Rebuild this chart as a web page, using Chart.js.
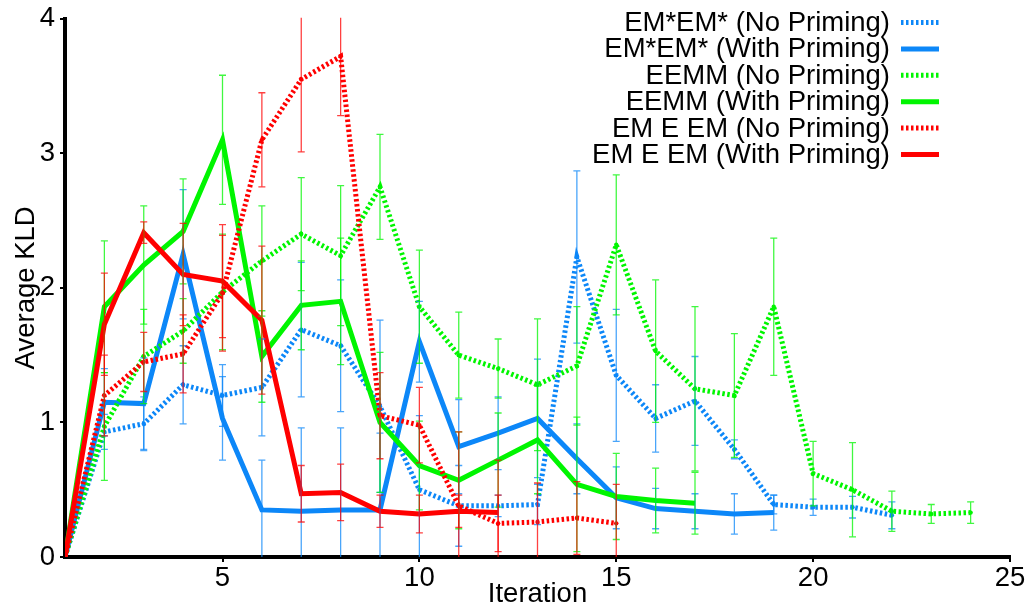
<!DOCTYPE html>
<html>
<head>
<meta charset="utf-8">
<script src="https://cdn.jsdelivr.net/npm/chart.js@4.4.0/dist/chart.umd.min.js"></script>
<style>
  html, body { margin: 0; padding: 0; background: #fff; }
  #wrap { width: 1033px; height: 607px; }
</style>
</head>
<body>
<div id="wrap"><canvas id="kldChart" width="1033" height="607"></canvas></div>
<script>
// iterations (x) and average KLD per series
const iterations = [1, 2, 3, 4, 5, 6, 7, 8, 9, 10, 11, 12, 13, 14, 15, 16, 17, 18, 19, 20, 21, 22, 23, 24];
const xTicks = [5, 10, 15, 20, 25];
const yTicks = [0, 1, 2, 3, 4];

const emNoPrime    = [0, 0.93, 0.99, 1.28, 1.20, 1.26, 1.69, 1.57, 1.12, 0.50, 0.38, 0.38, 0.39, 2.23, 1.35, 1.03, 1.16, 0.80, 0.39, 0.37, 0.37, 0.31];
const emNoPrimeErr = [0, 0.13, 0.20, 0.29, 0.23, 0.36, 0.50, 0.49, 0.64, 0.55, 0.30, 0.08, 0.15, 0.64, 0.49, 0.25, 0.33, 0.07, 0.07, 0.06, 0.08, 0.10];

const emPrime    = [0, 1.15, 1.14, 2.25, 1.03, 0.35, 0.34, 0.35, 0.35, 1.60, 0.82, 0.92, 1.03, 0.73, 0.44, 0.36, 0.34, 0.32, 0.33];
const emPrimeErr = [0, 0.25, 0.34, 0.48, 0.31, 0.37, 0.62, 0.61, 0.57, 0.30, 0.35, 0.27, 0.44, 0.26, 0.23, 0.15, 0.13, 0.15, 0.13];

const eemmNoPrime    = [0, 0.97, 1.49, 1.68, 1.97, 2.20, 2.40, 2.24, 2.75, 1.86, 1.50, 1.40, 1.28, 1.42, 2.32, 1.53, 1.25, 1.20, 1.86, 0.62, 0.50, 0.34, 0.32, 0.33];
const eemmNoPrimeErr = [0, 0.40, 0.35, 0.24, 0.43, 0.41, 0.42, 0.52, 0.39, 0.42, 0.32, 0.22, 0.49, 0.44, 0.52, 0.53, 0.61, 0.46, 0.51, 0.24, 0.35, 0.15, 0.07, 0.08];

const eemmPrime    = [0, 1.86, 2.17, 2.42, 3.10, 1.49, 1.87, 1.90, 1.00, 0.68, 0.57, 0.72, 0.87, 0.54, 0.45, 0.42, 0.40];
const eemmPrimeErr = [0, 0.49, 0.44, 0.39, 0.48, 0.34, 0.33, 0.47, 0.52, 0.33, 0.36, 0.35, 0.40, 0.50, 0.32, 0.24, 0.23];

const emeNoPrime    = [0, 1.20, 1.45, 1.51, 1.96, 3.10, 3.55, 3.72, 1.05, 0.98, 0.38, 0.25, 0.26, 0.29, 0.25];
const emeNoPrimeErr = [0, 0.30, 0.22, 0.29, 0.43, 0.35, 0.54, 0.44, 0.32, 0.28, 0.55, 0.21, 0.29, 0.27, 0.29];

const emePrime    = [0, 1.73, 2.41, 2.10, 2.05, 1.76, 0.47, 0.48, 0.34, 0.32, 0.34, 0.33];
const emePrimeErr = [0, 0.38, 0.08, 0.38, 0.42, 0.55, 0.21, 0.21, 0.12, 0.14, 0.12, 0.39];

const BLUE = 'rgb(12,135,248)';
const GREEN = 'rgb(0,245,0)';
const RED = 'rgb(255,0,0)';
const FONT = '"Liberation Sans", Arial, Helvetica, sans-serif';

const toPoints = vals => vals.map((v, i) => ({ x: iterations[i], y: v }));

function series(label, vals, errs, color, dotted, idx) {
  return {
    label: label,
    data: toPoints(vals),
    errors: errs,
    borderColor: color,
    backgroundColor: color,
    borderWidth: 5,
    borderDash: dotted ? [2.5, 2.5] : [],
    pointRadius: dotted ? 2.2 : 0,
    pointBorderWidth: 0,
    pointBackgroundColor: color,
    tension: 0,
    fill: false,
    order: -idx
  };
}

// vertical error bars with small caps, drawn with the chart's scales
const errorBars = {
  id: 'errorBars',
  afterDatasetsDraw(chart) {
    const { ctx, chartArea, scales } = chart;
    ctx.save();
    ctx.beginPath();
    ctx.rect(chartArea.left, chartArea.top - 1, chartArea.right - chartArea.left, chartArea.bottom - chartArea.top + 1);
    ctx.clip();
    ctx.lineWidth = 1.3;
    ctx.globalAlpha = 0.75;
    chart.data.datasets.forEach(ds => {
      ctx.strokeStyle = ds.borderColor;
      ds.data.forEach((p, j) => {
        const e = ds.errors[j];
        if (!e) return;
        const px = scales.x.getPixelForValue(p.x);
        const hi = p.y + e, lo = p.y - e;
        const yHi = scales.y.getPixelForValue(Math.min(hi, 4.2));
        const yLo = scales.y.getPixelForValue(Math.max(lo, 0));
        ctx.beginPath();
        ctx.moveTo(px, yHi); ctx.lineTo(px, yLo);
        if (hi <= 4) { ctx.moveTo(px - 3.5, yHi); ctx.lineTo(px + 3.5, yHi); }
        if (lo > 0) { ctx.moveTo(px - 3.5, yLo); ctx.lineTo(px + 3.5, yLo); }
        ctx.stroke();
      });
    });
    ctx.restore();
  }
};

// key in the upper right: text first, then a line sample
const sideLegend = {
  id: 'sideLegend',
  afterDraw(chart) {
    const ctx = chart.ctx;
    ctx.save();
    ctx.font = '27.5px ' + FONT;
    ctx.textAlign = 'right';
    ctx.textBaseline = 'middle';
    chart.data.datasets.forEach((ds, i) => {
      const yRow = 22.5 + i * 26.4;
      ctx.fillStyle = '#000';
      ctx.fillText(ds.label, 890, yRow + 1);
      ctx.strokeStyle = ds.borderColor;
      ctx.lineWidth = ds.borderWidth;
      ctx.setLineDash(ds.borderDash);
      ctx.beginPath();
      ctx.moveTo(901, yRow);
      ctx.lineTo(939, yRow);
      ctx.stroke();
    });
    ctx.restore();
  }
};

new Chart(document.getElementById('kldChart').getContext('2d'), {
  type: 'line',
  data: {
    datasets: [
      series('EM*EM* (No Priming)', emNoPrime, emNoPrimeErr, BLUE, true, 0),
      series('EM*EM* (With Priming)', emPrime, emPrimeErr, BLUE, false, 1),
      series('EEMM (No Priming)', eemmNoPrime, eemmNoPrimeErr, GREEN, true, 2),
      series('EEMM (With Priming)', eemmPrime, eemmPrimeErr, GREEN, false, 3),
      series('EM E EM (No Priming)', emeNoPrime, emeNoPrimeErr, RED, true, 4),
      series('EM E EM (With Priming)', emePrime, emePrimeErr, RED, false, 5)
    ]
  },
  options: {
    responsive: false,
    animation: false,
    layout: { padding: { top: 11, right: 23, left: 0, bottom: 0 } },
    plugins: {
      legend: { display: false },
      tooltip: { enabled: false }
    },
    scales: {
      x: {
        type: 'linear',
        min: 1,
        max: 25,
        afterBuildTicks: s => { s.ticks = xTicks.map(v => ({ value: v })); },
        afterFit: s => { s.height = 50; },
        grid: { display: true, drawOnChartArea: false, tickLength: 5, color: '#000', lineWidth: 2 },
        border: { display: true, color: '#000', width: 4 },
        ticks: { color: '#000', padding: 0, font: { family: FONT, size: 27.5, lineHeight: 1.2 } },
        title: { display: true, text: 'Iteration', color: '#000', padding: { top: 0, bottom: -1 }, font: { family: FONT, size: 27.5, lineHeight: 1 } }
      },
      y: {
        min: 0,
        max: 4,
        afterBuildTicks: s => { s.ticks = yTicks.map(v => ({ value: v })); },
        afterFit: s => { s.width = 65; },
        grid: { display: true, drawOnChartArea: false, tickLength: 5, color: '#000', lineWidth: 2 },
        border: { display: true, color: '#000', width: 4 },
        ticks: { color: '#000', padding: 5, font: { family: FONT, size: 27.5, lineHeight: 1 } },
        title: { display: true, text: 'Average KLD', color: '#000', padding: { top: 10, bottom: 0 }, font: { family: FONT, size: 27.5, lineHeight: 1.2 } }
      }
    }
  },
  plugins: [errorBars, sideLegend]
});
</script>
</body>
</html>
